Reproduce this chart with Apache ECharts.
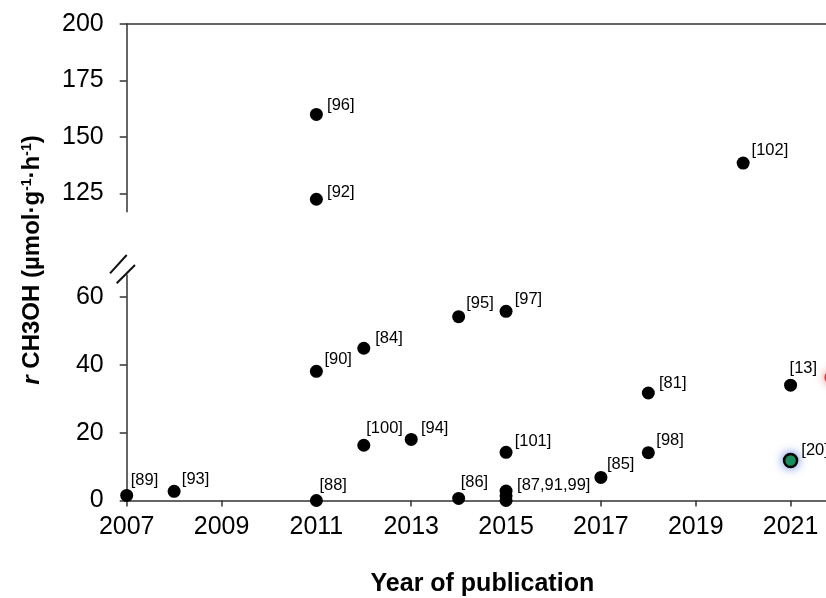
<!DOCTYPE html>
<html>
<head>
<meta charset="utf-8">
<script src="https://cdn.jsdelivr.net/npm/echarts@6/dist/echarts.min.js"></script>
<style>
  html, body { margin: 0; padding: 0; background: #fff; }
  #chart { width: 826px; height: 598px; }
</style>
</head>
<body>
<div id="chart"></div>
<script>
const FONT = 'Arial, "Liberation Sans", Helvetica, sans-serif';

// Upper panel (above the axis break)
const upperYears = [2011, 2011, 2020];
const upperRates = [160, 122.5, 138.5];
const upperRefs = ['[96]', '[92]', '[102]'];

// Lower panel
const lowerYears = [2007, 2008, 2011, 2011, 2012, 2012, 2013, 2014, 2014, 2015, 2015, 2015, 2015, 2015, 2017, 2018, 2018, 2021];
const lowerRates = [1.5, 2.7, 0, 38.1, 44.9, 16.3, 18.0, 54.2, 0.6, 55.8, 14.2, 2.8, 1.4, 0, 6.8, 31.7, 14.1, 34.0];
const lowerRefs = ['[89]', '[93]', '[88]', '[90]', '[84]', '[100]', '[94]', '[95]', '[86]', '[97]', '[101]', '[87,91,99]', '', '', '[85]', '[81]', '[98]', '[13]'];

// Highlighted results
const greenYears = [2021];
const greenRates = [11.8];
const greenRefs = ['[20]'];
const redYears = [2021.85];
const redRates = [36.3];

// Axis ticks
const yearTicks = [2007, 2009, 2011, 2013, 2015, 2017, 2019, 2021];
const upperTicks = [125, 150, 175, 200];
const lowerTicks = [0, 20, 40, 60];

// Label placement (offset of the label's left/middle from the dot centre)
const upperLabelOffsets = [[10.7, -9], [10.7, -7.3], [8.4, -13]];
const lowerLabelOffsets = [[4, -15], [7.7, -12], [3, -15], [8, -12], [11.4, -10], [2.4, -17], [9.7, -10.6],
  [7.6, -13], [2, -16], [8.6, -12], [8.6, -10.7], [11, -6], null, null, [6, -13], [10.7, -10], [8, -12], [-1, -17]];
const greenLabelOffsets = [[12, -9]];

const DOT = 13;
const AXIS_COLOR = '#333';
const TEXT_COLOR = '#000';
// the year axis runs on past the right edge of the page
const X_MIN = 2007, X_MAX = 2022;

function points(years, rates, refs, offsets) {
  return years.map((yr, i) => {
    const item = { value: [yr, rates[i]] };
    const off = offsets && offsets[i];
    if (refs && refs[i] && off) {
      item.label = {
        show: true,
        formatter: refs[i],
        position: [DOT / 2 + off[0], DOT / 2 + off[1]],
        align: 'left',
        verticalAlign: 'middle'
      };
    }
    return item;
  });
}

const labelBase = { show: false, color: TEXT_COLOR, fontSize: 16.5, fontFamily: FONT };
const tickFont = { fontSize: 25, color: TEXT_COLOR, fontFamily: FONT };

const xCommon = { type: 'value', min: X_MIN, max: X_MAX, splitLine: { show: false } };

// Page is wider than the window so the plot runs off the right edge
const PAGE_W = 826, PAGE_H = 598, PLOT_LEFT = 126.7, YEAR_PX = 47.38;
const wideW = Math.ceil(PLOT_LEFT + (X_MAX - X_MIN) * YEAR_PX);
const host = document.getElementById('chart');
host.style.overflow = 'hidden';
const inner = document.createElement('div');
inner.style.width = wideW + 'px';
inner.style.height = PAGE_H + 'px';
host.appendChild(inner);

const chart = echarts.init(inner, null, { renderer: 'canvas', width: wideW, height: PAGE_H });

const option = {
  animation: false,
  backgroundColor: '#fff',
  textStyle: { fontFamily: FONT },
  grid: [
    { left: PLOT_LEFT, top: 24, right: 0, height: 187.7, containLabel: false },
    { left: PLOT_LEFT, top: 275, right: 0, height: 227.7, containLabel: false }
  ],
  xAxis: [
    Object.assign({}, xCommon, {
      gridIndex: 0, position: 'top',
      axisLine: { show: true, lineStyle: { color: AXIS_COLOR, width: 1.5 } },
      axisTick: { show: false }, axisLabel: { show: false }
    }),
    Object.assign({}, xCommon, {
      gridIndex: 1, position: 'bottom',
      name: 'Year of publication', nameLocation: 'middle', nameGap: 84,
      nameTextStyle: { fontSize: 25, fontWeight: 'bold', color: TEXT_COLOR, fontFamily: FONT, verticalAlign: 'middle' },
      axisLine: { show: true, onZero: false, lineStyle: { color: AXIS_COLOR, width: 1.5 } },
      axisTick: { show: true, inside: false, length: 6, customValues: yearTicks, lineStyle: { color: AXIS_COLOR, width: 1.5 } },
      axisLabel: Object.assign({ show: true, customValues: yearTicks, margin: 14, formatter: v => String(v) }, tickFont)
    })
  ],
  yAxis: [
    {
      type: 'value', gridIndex: 0, min: 117, max: 200,
      splitLine: { show: false },
      axisLine: { show: true, lineStyle: { color: AXIS_COLOR, width: 1.5 } },
      axisTick: { show: true, length: 7, customValues: upperTicks, lineStyle: { color: AXIS_COLOR, width: 1.5 } },
      axisLabel: Object.assign({ show: true, customValues: upperTicks, margin: 23 }, tickFont)
    },
    {
      type: 'value', gridIndex: 1, min: 0, max: 66.5,
      splitLine: { show: false },
      axisLine: { show: true, lineStyle: { color: AXIS_COLOR, width: 1.5 } },
      axisTick: { show: true, length: 7, customValues: lowerTicks, lineStyle: { color: AXIS_COLOR, width: 1.5 } },
      axisLabel: Object.assign({ show: true, customValues: lowerTicks, margin: 23 }, tickFont)
    }
  ],
  series: [
    {
      type: 'scatter', xAxisIndex: 0, yAxisIndex: 0, symbolSize: DOT,
      itemStyle: { color: '#000', opacity: 1 }, label: labelBase,
      data: points(upperYears, upperRates, upperRefs, upperLabelOffsets)
    },
    {
      type: 'scatter', xAxisIndex: 1, yAxisIndex: 1, symbolSize: DOT,
      itemStyle: { color: '#000', opacity: 1 }, label: labelBase,
      data: points(lowerYears, lowerRates, lowerRefs, lowerLabelOffsets)
    },
    {
      type: 'scatter', xAxisIndex: 1, yAxisIndex: 1, symbolSize: DOT,
      itemStyle: { color: '#0e9a3e', opacity: 1, borderColor: '#000', borderWidth: 2.5, shadowBlur: 10, shadowColor: 'rgba(60,100,220,0.75)' },
      label: labelBase,
      data: points(greenYears, greenRates, greenRefs, greenLabelOffsets)
    },
    {
      type: 'scatter', xAxisIndex: 1, yAxisIndex: 1, symbolSize: DOT,
      itemStyle: { color: '#e03a3a', opacity: 1, shadowBlur: 10, shadowColor: 'rgba(240,90,90,0.8)' },
      data: points(redYears, redRates, null, null)
    }
  ],
  graphic: [
    {
      type: 'text', x: 32, y: 260, rotation: Math.PI / 2,
      style: {
        text: '{i|r }{b|CH3OH (µmol·g}{s|-1}{b|·h}{s|-1}{b|)}',
        align: 'center', verticalAlign: 'middle',
        fill: TEXT_COLOR,
        rich: {
          i: { fontSize: 24, fontWeight: 'bold', fontStyle: 'italic', fontFamily: FONT, fill: TEXT_COLOR },
          b: { fontSize: 24, fontWeight: 'bold', fontFamily: FONT, fill: TEXT_COLOR },
          s: { fontSize: 14, fontWeight: 'bold', fontFamily: FONT, fill: TEXT_COLOR, verticalAlign: 'top' }
        }
      }
    }
  ]
};

chart.setOption(option);

// Axis-break marks at the top of the lower value axis
const corner = chart.convertToPixel({ gridIndex: 1 }, [X_MIN, 66.5]);
const cx = corner[0], cy = corner[1];
chart.setOption({
  graphic: [
    option.graphic[0],
    { type: 'line', shape: { x1: cx - 16.7, y1: cy - 1.7, x2: cx, y2: cy - 20 }, style: { stroke: '#111', lineWidth: 2 } },
    { type: 'line', shape: { x1: cx - 10, y1: cy + 8.3, x2: cx + 8.3, y2: cy - 10 }, style: { stroke: '#111', lineWidth: 2 } }
  ]
});
</script>
</body>
</html>
